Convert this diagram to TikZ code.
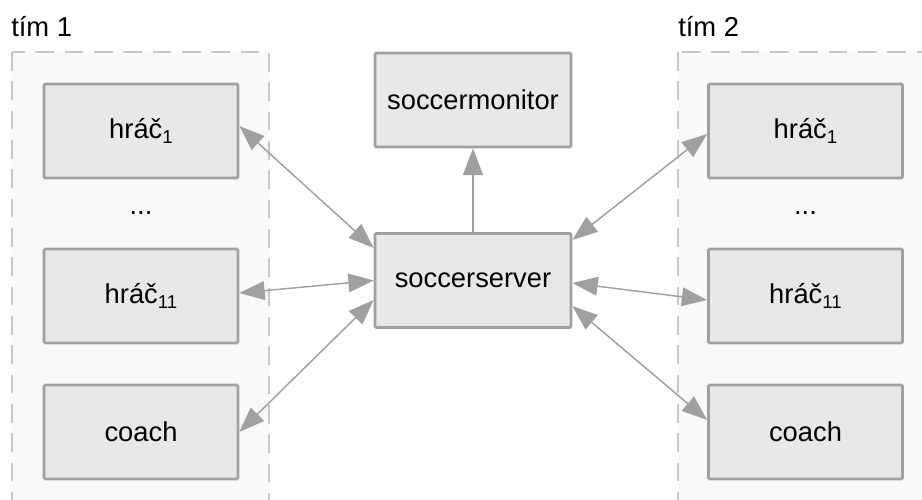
\documentclass[tikz,border=0pt]{standalone}
\usepackage{fontspec}
\setmainfont{Liberation Sans}
\usetikzlibrary{arrows.meta}
\definecolor{boxfill}{HTML}{E8E8E8}
\definecolor{boxline}{HTML}{A0A0A0}
\definecolor{grpfill}{HTML}{F9F9F9}
\definecolor{grpline}{HTML}{C8C8C8}
\newcommand{\lowsub}[1]{\raisebox{-0.3ex}{\fontsize{14}{16}\selectfont #1}}
\tikzset{
  comp/.style={draw=boxline, line width=2pt, fill=boxfill, rounded corners=1pt,
    minimum width=145.5pt, minimum height=70.5pt, inner sep=0pt,
    font=\fontsize{20.5}{24}\selectfont},
  group/.style={draw=grpline, fill=grpfill, line width=0.8pt, dash pattern=on 14pt off 8pt},
  conn/.style={draw=boxline, line width=1.1pt, {Triangle[length=19pt,width=14pt]}-{Triangle[length=19pt,width=14pt]}},
  conn1/.style={draw=boxline, line width=1.1pt, -{Triangle[length=20pt,width=15pt]}},
  lbl/.style={font=\fontsize{20.5}{24}\selectfont, inner sep=0pt, anchor=base west},
  dots/.style={font=\fontsize{20.5}{24}\selectfont, inner sep=0pt}
}
\begin{document}
\begin{tikzpicture}[x=0.75pt, y=-0.75pt]
\useasboundingbox (0,0) rectangle (922,500);
\clip (0,0) rectangle (922,500);
\fill[white] (0,0) rectangle (922,500);
% groups
\path[group] (12,52) rectangle (269,520);
\path[group] (678,52) rectangle (940,520);
\node[lbl] (t1) at (11,36) {tím 1};
\node[lbl] (t2) at (678,36) {tím 2};
% left team
\node[comp] (l1) at (141,131) {hráč\lowsub{1}};
\node[dots] (ld) at (141,213) {...};
\node[comp] (l11) at (141,296) {hráč\lowsub{11}};
\node[comp] (lc) at (141,432) {coach};
% right team
\node[comp] (r1) at (805.5,131) {hráč\lowsub{1}};
\node[dots] (rd) at (805.5,213) {...};
\node[comp] (r11) at (805.5,296) {hráč\lowsub{11}};
\node[comp] (rc) at (805.5,432) {coach};
% center
\node[comp, minimum width=147pt] (mon) at (473,100) {soccermonitor};
\node[comp, minimum width=147pt] (srv) at (473,280.5) {soccerserver};
% connectors
\draw[conn1] (srv.north) -- (mon.south);
\draw[conn] ([yshift=3.75pt]l1.east) -- ([yshift=24.4pt]srv.west);
\draw[conn] ([yshift=2.25pt]l11.east) -- ([yshift=0pt]srv.west);
\draw[conn] (lc.east) -- ([yshift=-14.6pt]srv.west);
\draw[conn] ([yshift=-2.25pt]r1.west) -- ([yshift=30.4pt]srv.east);
\draw[conn] ([yshift=-3pt]r11.west) -- ([yshift=-1.9pt]srv.east);
\draw[conn] ([yshift=9pt]rc.west) -- ([yshift=-19.1pt]srv.east);
\end{tikzpicture}
\end{document}
